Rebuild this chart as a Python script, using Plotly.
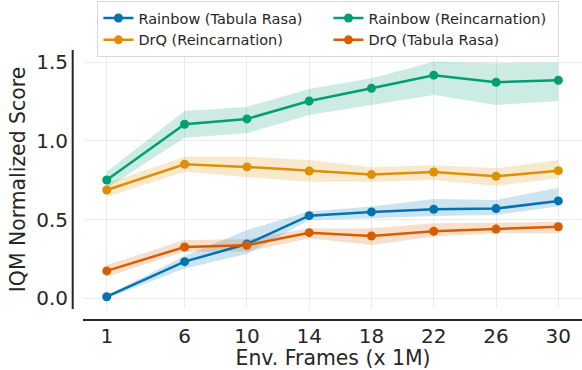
import plotly.graph_objects as go

# Environment frames (in millions) at which agents were evaluated
frames = [1, 6, 10, 14, 18, 22, 26, 30]

# IQM normalized scores with bootstrap confidence bands
rainbow_tr = [0.01, 0.233, 0.345, 0.525, 0.549, 0.566, 0.570, 0.619]
rainbow_tr_lo = [0.0, 0.19, 0.282, 0.498, 0.509, 0.523, 0.530, 0.583]
rainbow_tr_hi = [0.02, 0.269, 0.434, 0.551, 0.583, 0.631, 0.625, 0.703]

rainbow_re = [0.752, 1.106, 1.140, 1.254, 1.335, 1.418, 1.373, 1.386]
rainbow_re_lo = [0.70, 1.02, 1.049, 1.165, 1.229, 1.292, 1.229, 1.254]
rainbow_re_hi = [0.805, 1.19, 1.218, 1.33, 1.398, 1.504, 1.494, 1.498]

drq_re = [0.688, 0.852, 0.835, 0.809, 0.786, 0.803, 0.776, 0.811]
drq_re_lo = [0.646, 0.805, 0.769, 0.741, 0.741, 0.752, 0.714, 0.763]
drq_re_hi = [0.731, 0.90, 0.90, 0.879, 0.833, 0.847, 0.826, 0.879]

drq_tr = [0.174, 0.326, 0.337, 0.417, 0.396, 0.426, 0.440, 0.455]
drq_tr_lo = [0.137, 0.296, 0.296, 0.381, 0.339, 0.392, 0.413, 0.413]
drq_tr_hi = [0.212, 0.37, 0.375, 0.445, 0.445, 0.477, 0.48, 0.487]

series = [
    ("Rainbow (Tabula Rasa)", rainbow_tr, rainbow_tr_lo, rainbow_tr_hi, (1, 115, 178)),
    ("Rainbow (Reincarnation)", rainbow_re, rainbow_re_lo, rainbow_re_hi, (2, 158, 115)),
    ("DrQ (Reincarnation)", drq_re, drq_re_lo, drq_re_hi, (222, 143, 5)),
    ("DrQ (Tabula Rasa)", drq_tr, drq_tr_lo, drq_tr_hi, (213, 94, 0)),
]

FONT = "DejaVu Sans"
TEXT = "#262626"

fig = go.Figure()

# shaded confidence bands first so the lines sit on top
for name, y, lo, hi, (r, g, b) in series:
    fig.add_trace(go.Scatter(x=frames, y=hi, mode="lines", line=dict(width=0),
                             showlegend=False, hoverinfo="skip"))
    fig.add_trace(go.Scatter(x=frames, y=lo, mode="lines", line=dict(width=0),
                             fill="tonexty", fillcolor=f"rgba({r},{g},{b},0.2)",
                             showlegend=False, hoverinfo="skip"))

for name, y, lo, hi, (r, g, b) in series:
    fig.add_trace(go.Scatter(x=frames, y=y, mode="lines+markers", name=name,
                             line=dict(color=f"rgb({r},{g},{b})", width=2.5),
                             marker=dict(size=9, color=f"rgb({r},{g},{b})")))

axis_common = dict(
    showgrid=True, gridcolor="#ebebeb", gridwidth=1, zeroline=False,
    showline=False, ticks="outside", tickcolor="rgba(0,0,0,0)",
    tickfont=dict(family=FONT, size=20, color=TEXT),
)

fig.update_layout(
    width=582, height=370,
    margin=dict(l=84, r=0, t=50, b=61),
    plot_bgcolor="white", paper_bgcolor="white",
    font=dict(family=FONT, color=TEXT),
    xaxis=dict(range=[-0.46, 31.52], tickvals=frames, ticklen=9,
               title=dict(text="Env. Frames (x 1M)", font=dict(family=FONT, size=20.4, color=TEXT),
                          standoff=3),
               **axis_common),
    yaxis=dict(range=[-0.068, 1.578], tickvals=[0, 0.5, 1.0, 1.5], tickformat=".1f",
               ticklen=11,
               title=dict(text="IQM Normalized Score", font=dict(family=FONT, size=20.4, color=TEXT),
                          standoff=5),
               **axis_common),
    legend=dict(orientation="h", x=0.027, y=1.189, xanchor="left", yanchor="top",
                bgcolor="white", bordercolor="#d9d9d9", borderwidth=1,
                font=dict(family=FONT, size=14.5, color=TEXT),
                entrywidth=185, entrywidthmode="pixels", traceorder="normal",
                itemwidth=30, tracegroupgap=0),
    shapes=[
        # offset left spine
        dict(type="line", xref="paper", yref="paper", x0=-0.0227, x1=-0.0227, y0=0, y1=1,
             line=dict(color=TEXT, width=2)),
        # offset bottom spine
        dict(type="line", xref="paper", yref="paper", x0=-0.002, x1=1, y0=-0.0425, y1=-0.0425,
             line=dict(color=TEXT, width=2)),
    ],
)

fig.write_html("out.html")
